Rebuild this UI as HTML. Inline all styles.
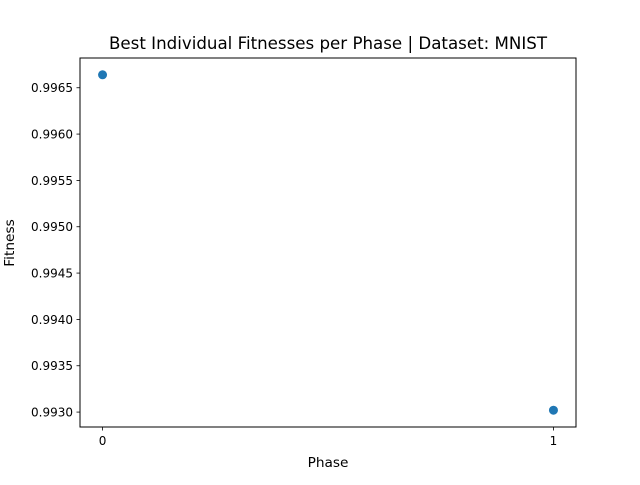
<!DOCTYPE html>
<html><head><meta charset="utf-8"><style>
body{margin:0;background:#fff;}
svg text{font-family:"DejaVu Sans","Liberation Sans",sans-serif;fill:#000;}
</style></head><body>
<svg id="chart" width="640" height="480" viewBox="0 0 640 480">
<rect x="0" y="0" width="640" height="480" fill="#fff"/>
<text x="328" y="49" font-size="16.67" text-anchor="middle">Best Individual Fitnesses per Phase | Dataset: MNIST</text>
<g id="yticks"></g><g id="xticks"></g><g id="points"></g>
<rect x="80" y="58" width="496" height="369" fill="none" stroke="#000" stroke-width="1"/>
<text x="328" y="467" font-size="13.7" text-anchor="middle">Phase</text>
<text transform="translate(14,243) rotate(-90)" font-size="13.7" text-anchor="middle">Fitness</text>
</svg>
<script>
const phases = [0, 1];
const fitness = [0.99664, 0.99302];
const yTickValues = [0.9930, 0.9935, 0.9940, 0.9945, 0.9950, 0.9955, 0.9960, 0.9965];
const yTickLabels = ["0.9930","0.9935","0.9940","0.9945","0.9950","0.9955","0.9960","0.9965"];
const xTickValues = [0, 1];
const xTickLabels = ["0", "1"];

const NS = "http://www.w3.org/2000/svg";
const L=80,R=576,T=58,B=427;
const xmin=Math.min(...phases), xmax=Math.max(...phases), xs=(xmax-xmin)||1;
const x0=xmin-0.05*xs, x1=xmax+0.05*xs;
const ymn=Math.min(...fitness), ymx=Math.max(...fitness), ys=(ymx-ymn)||1;
const y0=ymn-0.05*ys, y1=ymx+0.05*ys;
const xScale=v=>L+(v-x0)/(x1-x0)*(R-L);
const yScale=v=>B-(v-y0)/(y1-y0)*(B-T);
function mk(tag, attrs, parent){const e=document.createElementNS(NS,tag);for(const k in attrs)e.setAttribute(k,attrs[k]);parent.appendChild(e);return e;}
const yg=document.getElementById('yticks');
yTickValues.forEach((v,i)=>{const y=yScale(v);
 const t=mk('line',{x1:L-3.5,x2:L,y1:y,y2:y,stroke:'#000','stroke-width':0.8},yg);
 
 
 const tx=mk('text',{x:L-7,y:y+4.5,'font-size':12,'text-anchor':'end'},yg);
 tx.textContent=yTickLabels[i];
 
 
});
const xg=document.getElementById('xticks');
xTickValues.forEach((v,i)=>{const x=xScale(v);
 const t=mk('line',{x1:x,x2:x,y1:B,y2:B+3.5,stroke:'#000','stroke-width':0.8},xg);
 
 
 const tx=mk('text',{x:x,y:B+18,'font-size':12,'text-anchor':'middle'},xg);
 tx.textContent=xTickLabels[i];
 
 
});
const pg=document.getElementById('points');
phases.forEach((p,i)=>{
 const c=mk('circle',{cx:xScale(p),cy:yScale(fitness[i]),r:4.5,fill:'#1f77b4'},pg);
 
 
});
</script>
</body></html>
